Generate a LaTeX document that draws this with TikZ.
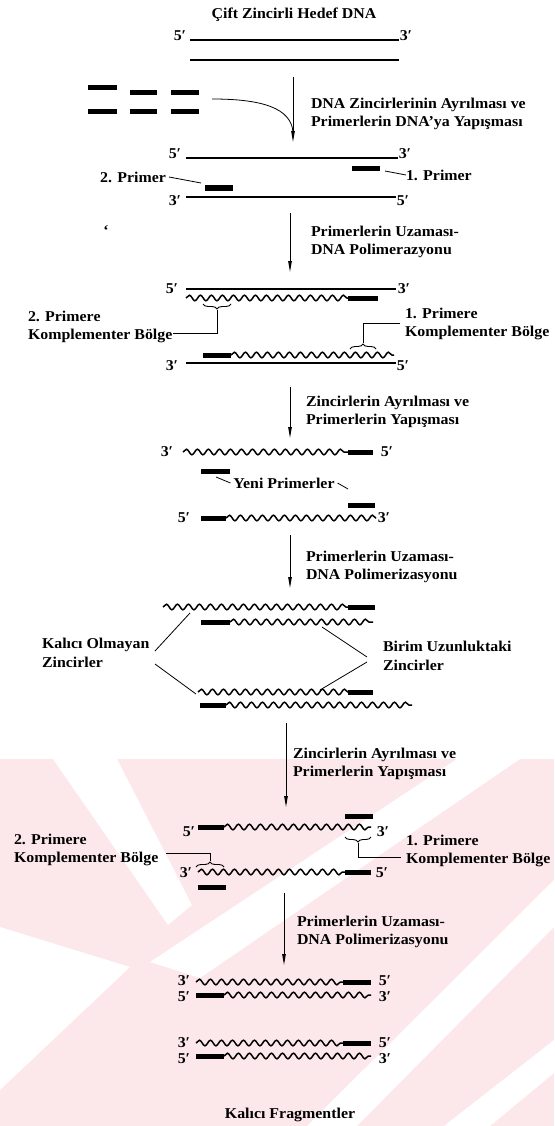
\documentclass[tikz,border=0pt]{standalone}
\usepackage{fontspec}
\setmainfont{Liberation Serif}[FakeStretch=1.06]
\usetikzlibrary{decorations.pathmorphing,decorations.pathreplacing,arrows.meta}
\definecolor{wm}{RGB}{252,231,235}
\begin{document}
\begin{tikzpicture}[x=1pt,y=-1pt,
  every node/.style={inner sep=0pt,outer sep=0pt,font=\fontsize{15}{18.5}\selectfont\bfseries},
  lbl/.style={anchor=base},
  txt/.style={anchor=west,align=left},
  strand/.style={line width=1.8pt},
  wavy/.style={line width=1.5pt,decorate,decoration={snake,segment length=11pt,amplitude=2.8pt}},
  primer/.style={line width=5pt},
  flow/.style={line width=0.9pt,-{Triangle[length=11pt,width=3.5pt]}},
  lead/.style={line width=0.8pt},
  brc/.style={line width=0.9pt,decorate,decoration={brace,amplitude=5pt}}]
\useasboundingbox (0,0) rectangle (554,1126);
% watermark
\fill[wm] (0,759) rectangle (554,1126);
\fill[white] (53,759) -- (117,759) -- (192,905) -- (168,925) -- cycle;
\fill[white] (0,927) -- (130,967) -- (0,1090) -- cycle;
\fill[white] (457,759) -- (520,759) -- (200,978) -- (150,962) -- cycle;
\fill[white] (307,1126) -- (357,1126) -- (554,927) -- (554,880) -- cycle;
\fill[white] (444,1126) -- (490,1126) -- (554,1073) -- (554,1040) -- cycle;

% title and stage 1
\node (title) at (294,15) {Çift Zincirli Hedef DNA};
\node[lbl] (s1l) at (180,41) {5′};
\node[lbl] (s1r) at (406,41) {3′};
\draw[strand] (190,40) -- (399,40);
\draw[strand] (190,60) -- (399,60);
\foreach \a/\b/\y in {88/117/87.5,130/157/92.5,171/199/92.5,88/117/112,130/157/112,171/199/112}
  \draw[primer] (\a,\y) -- (\b,\y);
\coordinate (a1s) at (293,77);
\coordinate (a1e) at (293,142);
\coordinate (cst) at (212,99);
\draw[lead] (cst) .. controls (262,99) and (291,108) .. (293,132);
\draw[flow] (a1s) -- (a1e);
\node[txt] (t1) at (311,114) {DNA Zincirlerinin Ayrılması ve\\Primerlerin DNA'ya Yapışması};

% stage 2
\node[lbl] (s2a) at (175,159) {5′};
\node[lbl] (s2b) at (405,159) {3′};
\draw[strand] (186,158) -- (398,158);
\draw[primer] (352,169) -- (380,169);
\node[anchor=west] (p1) at (406,175) {1. Primer};
\coordinate (p1c) at (385,171);
\draw[lead] (p1c) -- (p1.west);
\node[anchor=east] (p2) at (166,177) {2. Primer};
\coordinate (p2c) at (201,183);
\draw[lead] ([xshift=3pt]p2.east) -- (p2c);
\draw[primer] (205,188) -- (233,188);
\draw[strand] (186,197) -- (396,197);
\node[lbl] (s2c) at (175,205) {3′};
\node[lbl] (s2d) at (403,205) {5′};
\node (mark) at (106,231) {‘};

\draw[flow] (290,213) -- (290,272);
\node[txt] (t2) at (311,242) {Primerlerin Uzaması-\\DNA Polimerazyonu};

% stage 3
\node[lbl] (s3a) at (172,293) {5′};
\node[lbl] (s3b) at (404,293) {3′};
\draw[strand] (186,289) -- (396,289);
\draw[wavy] (186,298) -- (348,298);
\draw[primer] (348,298) -- (378,298);
\draw[brc] (231,304) -- (203,304);
\draw[lead] (217,310) -- (217,333) -- (173,333);
\node[txt] (k2a) at (28,327) {2. Primere\\Komplementer Bölge};
\node[txt] (k1a) at (405,324) {1. Primere\\Komplementer Bölge};
\draw[lead] (400,323) -- (363,323) -- (363,343);
\draw[brc] (350,349) -- (376,349);
\draw[primer] (203,355) -- (231,355);
\draw[wavy] (231,355) -- (394,355);
\draw[strand] (186,363) -- (396,363);
\node[lbl] (s3c) at (172,370) {3′};
\node[lbl] (s3d) at (403,370) {5′};

\draw[flow] (290,387) -- (290,438);
\node[txt] (t3) at (306,412) {Zincirlerin Ayrılması ve\\Primerlerin Yapışması};

% stage 4
\node[lbl] (s4a) at (167,456) {3′};
\draw[wavy] (183,452) -- (348,452);
\draw[primer] (348,452) -- (373,452);
\node[lbl] (s4b) at (387,456) {5′};
\draw[primer] (201,471) -- (230,471);
\node (yeni) at (284,483) {Yeni Primerler};
\draw[lead] (216,477) -- ([xshift=-3pt]yeni.west);
\draw[lead] ([xshift=3pt]yeni.east) -- (348,489);
\draw[primer] (348,505) -- (375,505);
\node[lbl] (s4c) at (184,522) {5′};
\draw[primer] (201,518) -- (226,518);
\draw[wavy] (226,518) -- (376,518);
\node[lbl] (s4d) at (384,522) {3′};

\draw[flow] (290,535) -- (290,588);
\node[txt] (t4) at (306,567) {Primerlerin Uzaması-\\DNA Polimerizasyonu};

% stage 5
\draw[wavy] (163,607) -- (348,607);
\draw[primer] (348,607) -- (375,607);
\draw[primer] (201,622) -- (230,622);
\draw[wavy] (230,622) -- (373,622);
\node[txt] (ko) at (42,653) {Kalıcı Olmayan\\Zincirler};
\node[txt] (bu) at (383,656) {Birim Uzunluktaki\\Zincirler};
\draw[lead] (155,651) -- (190,613);
\draw[lead] (155,664) -- (196,694);
\draw[lead] (367,657) -- (322,627);
\draw[lead] (367,662) -- (320,690);
\draw[wavy] (198,692) -- (348,692);
\draw[primer] (348,692) -- (373,692);
\draw[primer] (200,705) -- (226,705);
\draw[wavy] (226,705) -- (412,705);

\draw[flow] (286,723) -- (286,807);
\node[txt] (t5) at (293,764) {Zincirlerin Ayrılması ve\\Primerlerin Yapışması};

% stage 6
\draw[primer] (345,816) -- (373,816);
\node[lbl] (s6a) at (189,836) {5′};
\draw[primer] (198,827) -- (224,827);
\draw[wavy] (224,827) -- (371,827);
\node[lbl] (s6b) at (383,836) {3′};
\draw[brc] (371,837) -- (345,837);
\draw[lead] (358,843) -- (358,857) -- (401,857);
\node[txt] (k1b) at (406,851) {1. Primere\\Komplementer Bölge};
\node[txt] (k2b) at (14,850) {2. Primere\\Komplementer Bölge};
\draw[lead] (166,853) -- (210,853) -- (210,861);
\draw[brc] (196,867) -- (224,867);
\node[lbl] (s6c) at (186,877) {3′};
\draw[wavy] (198,872) -- (345,872);
\draw[primer] (345,872) -- (371,872);
\node[lbl] (s6d) at (382,877) {5′};
\draw[primer] (198,887) -- (226,887);

\draw[flow] (284,893) -- (284,965);
\node[txt] (t6) at (297,932) {Primerlerin Uzaması-\\DNA Polimerizasyonu};

% stage 7
\node[lbl] (s7a) at (184,985) {3′};
\draw[wavy] (196,982) -- (343,982);
\draw[primer] (343,982) -- (371,982);
\node[lbl] (s7b) at (385,985) {5′};
\node[lbl] (s7c) at (184,1001) {5′};
\draw[primer] (196,995) -- (224,995);
\draw[wavy] (224,995) -- (371,995);
\node[lbl] (s7d) at (385,1001) {3′};
\node[lbl] (s7e) at (184,1047) {3′};
\draw[wavy] (196,1043) -- (343,1043);
\draw[primer] (343,1043) -- (371,1043);
\node[lbl] (s7f) at (385,1047) {5′};
\node[lbl] (s7g) at (184,1063) {5′};
\draw[primer] (196,1056) -- (224,1056);
\draw[wavy] (224,1056) -- (371,1056);
\node[lbl] (s7h) at (385,1063) {3′};
\node (kf) at (290,1115) {Kalıcı Fragmentler};
\end{tikzpicture}
\end{document}
